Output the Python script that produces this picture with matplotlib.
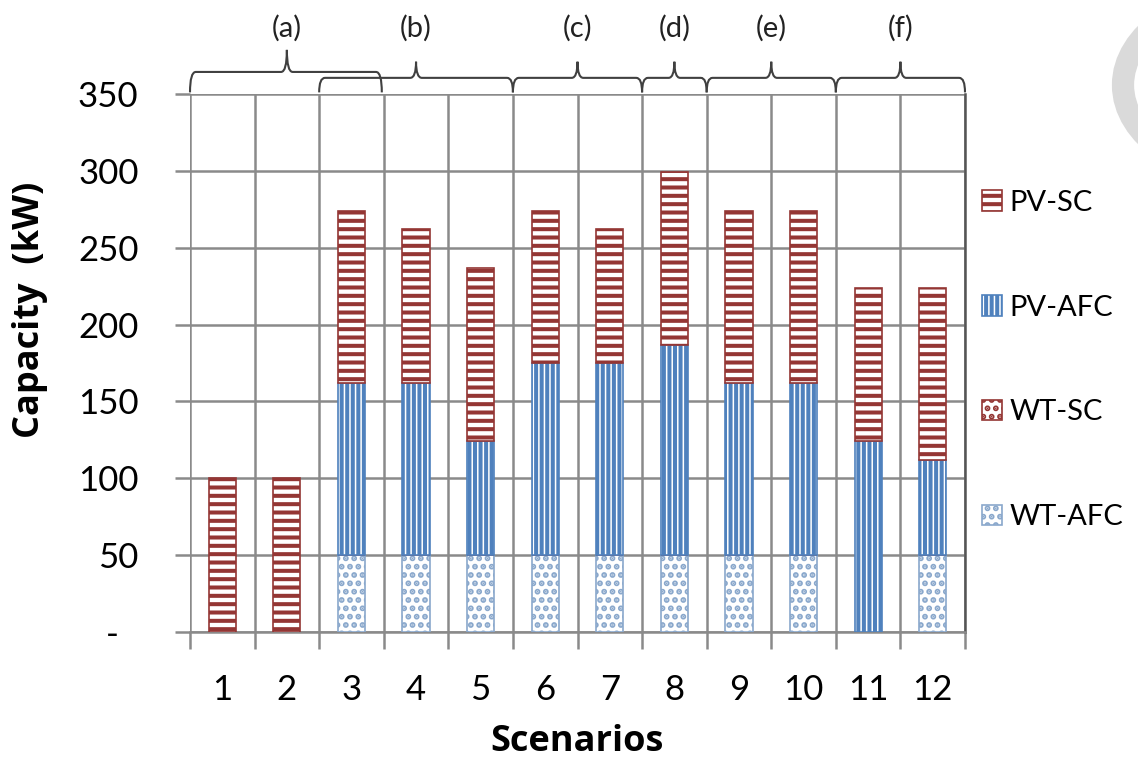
"""
Stacked capacity bars per scenario with group braces on top
"""

import matplotlib
matplotlib.use("Agg")
import matplotlib.pyplot as plt
import matplotlib.transforms as mtransforms
from matplotlib.path import Path
from matplotlib.patches import PathPatch, Circle

plt.rcParams['font.family'] = ['Lato', 'DejaVu Sans']
plt.rcParams['hatch.linewidth'] = 2.9

# data
scenarios = [1, 2, 3, 4, 5, 6, 7, 8, 9, 10, 11, 12]
wt_afc = [0, 0, 50, 50, 50, 50, 50, 50, 50, 50, 0, 50]
wt_sc = [0, 0, 0, 0, 0, 0, 0, 0, 0, 0, 0, 0]
pv_afc = [0, 0, 112, 112, 74, 125, 125, 137, 112, 112, 124, 62]
pv_sc = [100, 100, 112, 100, 113, 99, 87, 112, 112, 112, 100, 112]

# scenario groups: (label, first, last, centre)
groups = [
    ('(a)', 1, 3, 2.0),
    ('(b)', 3, 5, 4.0),
    ('(c)', 6, 7, 6.5),
    ('(d)', 8, 8, 8.0),
    ('(e)', 9, 10, 9.5),
    ('(f)', 11, 12, 11.5),
]

ytick_vals = [0, 50, 100, 150, 200, 250, 300, 350]
ytick_labels = ['-', '50', '100', '150', '200', '250', '300', '350']

RED = '#943634'
BLUE = '#4f81bd'
LBLUE = '#8aa8cc'
GRID = '#8a8a8a'

fig = plt.figure(figsize=(11.38, 7.59), dpi=100)
ax = fig.add_axes([190 / 1138, 1 - 632 / 759, 775 / 1138, 538 / 759])

width = 0.42
bottom = [0] * len(scenarios)
series = [
    ('WT-AFC', wt_afc, LBLUE, '..'),
    ('WT-SC', wt_sc, RED, '..'),
    ('PV-AFC', pv_afc, BLUE, '|||'),
    ('PV-SC', pv_sc, RED, '--'),
]
handles = {}
for name, vals, col, hatch in series:
    bars = ax.bar(scenarios, vals, width, bottom=bottom, facecolor='white',
                  edgecolor=col, hatch=hatch, linewidth=1.2, label=name, zorder=3)
    handles[name] = bars
    bottom = [b + v for b, v in zip(bottom, vals)]

ax.set_xlim(0.5, 12.5)
ax.set_ylim(0, 350)

# axes look
for side in ['top', 'left']:
    ax.spines[side].set_visible(False)
ax.spines['bottom'].set_color(GRID)
ax.spines['bottom'].set_linewidth(1.8)
ax.spines['right'].set_color('#555555')
ax.spines['right'].set_linewidth(1.8)

ax.set_yticks(ytick_vals)
ax.set_yticklabels(ytick_labels, fontsize=25)
ax.tick_params(axis='y', length=11, width=1.8, color=GRID, pad=26)
ax.set_xticks(scenarios)
ax.set_xticklabels([str(s) for s in scenarios], fontsize=25)
ax.tick_params(axis='x', which='major', length=0, pad=30)
ax.set_xticks([s - 0.5 for s in scenarios] + [12.5], minor=True)
ax.tick_params(axis='x', which='minor', length=12, width=1.8, color=GRID)
ax.grid(axis='y', which='major', color=GRID, linewidth=1.8, zorder=0)
ax.grid(axis='x', which='minor', color=GRID, linewidth=1.8, zorder=0)
ax.set_axisbelow(True)

# zero label sits further left, as in the original
zero_lbl = ax.get_yticklabels()[0]
zero_lbl.set_transform(zero_lbl.get_transform()
                       + mtransforms.ScaledTranslation(-0.2, 0, fig.dpi_scale_trans))

fig.text(30 / 1138, 1 - 310 / 759, 'Capacity  (kW)', rotation=90, fontsize=26,
         fontweight='bold', family=['Open Sans', 'DejaVu Sans'],
         ha='center', va='center')
fig.text(577 / 1138, 1 - 742 / 759, 'Scenarios', fontsize=26,
         fontweight='bold', family=['Open Sans', 'DejaVu Sans'],
         ha='center', va='center')

# braces above the plot
trans = mtransforms.blended_transform_factory(ax.transData, ax.transAxes)


def draw_brace(x0, x1, xc, ybar, ypeak, yend=1.003, d=0.09):
    verts = [(x0, yend), (x0, ybar), (x0 + d, ybar),
             (xc - d, ybar), (xc, ybar), (xc, ypeak),
             (xc, ybar), (xc + d, ybar),
             (x1 - d, ybar), (x1, ybar), (x1, yend)]
    codes = [Path.MOVETO, Path.CURVE3, Path.CURVE3,
             Path.LINETO, Path.CURVE3, Path.CURVE3,
             Path.CURVE3, Path.CURVE3,
             Path.LINETO, Path.CURVE3, Path.CURVE3]
    ax.add_patch(PathPatch(Path(verts, codes), fill=False, edgecolor='#404040',
                           linewidth=1.5, transform=trans, clip_on=False))


for lab, first, last, cen in groups:
    if lab == '(a)':
        draw_brace(first - 0.5, last + 0.47, cen, 1.041, 1.082)
    else:
        draw_brace(first - 0.5, last + 0.5, cen, 1.030, 1.060)
    ax.text(cen, 1.123, lab, transform=trans, fontsize=21, ha='center',
            va='center', color='#222222')

# legend, top-down order
order = ['PV-SC', 'PV-AFC', 'WT-SC', 'WT-AFC']
leg = fig.legend([handles[n] for n in order], order, loc='center left',
                 bbox_to_anchor=(982 / 1138, 1 - 360 / 759), frameon=False,
                 fontsize=21, labelspacing=2.7, handlelength=0.7,
                 handleheight=0.7, handletextpad=0.25, borderpad=0,
                 borderaxespad=0)

# grey ring partly outside the figure on the right
fig.patches.append(Circle((1264 / 1138, 1 - 85 / 759), 141 / 1138,
                          transform=fig.transFigure, fill=False,
                          edgecolor='#dadada', linewidth=16))

fig.savefig('out.png', dpi=100)
